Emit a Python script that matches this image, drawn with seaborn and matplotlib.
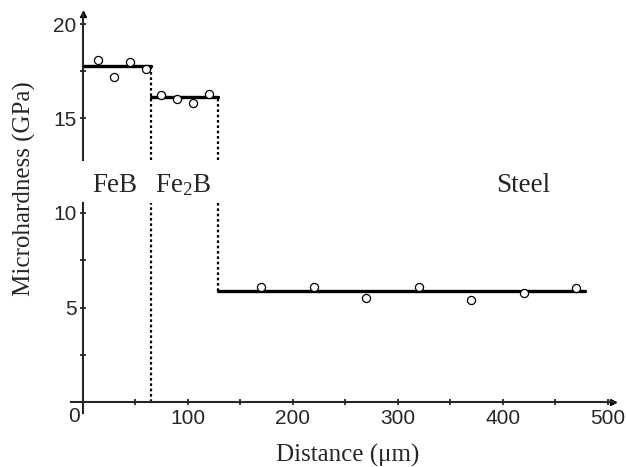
import matplotlib
matplotlib.use("Agg")
import matplotlib.pyplot as plt
import matplotlib.transforms as mtransforms
from matplotlib.ticker import MultipleLocator
import seaborn as sns

# measured microhardness (GPa) vs distance from surface (um)
feb_x = [15, 30, 45, 60]
feb_y = [18.1, 17.2, 18.0, 17.6]
fe2b_x = [75, 90, 105, 120]
fe2b_y = [16.25, 16.0, 15.8, 16.3]
steel_x = [170, 220, 270, 320, 370, 420, 470]
steel_y = [6.07, 6.07, 5.5, 6.07, 5.4, 5.77, 6.02]

# mean levels of each layer and layer boundaries
feb_mean = 17.75
fe2b_mean = 16.13
steel_mean = 5.89
feb_end = 65
fe2b_end = 129
steel_end = 478

sns.set_style("ticks")
plt.rcParams["font.family"] = ["Liberation Sans", "DejaVu Sans"]
plt.rcParams["mathtext.fontset"] = "custom"
plt.rcParams["mathtext.rm"] = "Liberation Serif"
plt.rcParams["mathtext.it"] = "Liberation Serif:italic"
serif = ["Liberation Serif", "DejaVu Serif"]

fig = plt.figure(figsize=(6.26, 4.67), dpi=100)
left, width = 0.1134, 0.979 - 0.1134
ax_lo = fig.add_axes([left, 0.1156, width, 0.565 - 0.1156])
ax_hi = fig.add_axes([left, 0.657, width, 0.970 - 0.657], sharex=ax_lo)

ax_lo.set_xlim(-11, 505)
ax_lo.set_ylim(-0.56, 10.52)
ax_hi.set_ylim(12.75, 20.55)

lw_axis = 1.5
for ax in (ax_lo, ax_hi):
    for s in ("top", "right"):
        ax.spines[s].set_visible(False)
    ax.spines["left"].set_position(("data", 0))
    ax.spines["left"].set_linewidth(lw_axis)
    ax.set_facecolor("none")
    ax.tick_params(direction="inout", length=5, width=1.3, labelsize=15, pad=2,
                   which="both")
    ax.tick_params(which="minor", length=4)

ax_hi.spines["bottom"].set_visible(False)
ax_hi.tick_params(axis="x", which="both", bottom=False, labelbottom=False)
ax_lo.spines["bottom"].set_position(("data", 0))
ax_lo.spines["bottom"].set_linewidth(lw_axis)

ax_lo.set_xticks([0, 100, 200, 300, 400, 500])
ax_lo.xaxis.set_minor_locator(MultipleLocator(50))
ax_lo.set_yticks([5, 10])
ax_lo.yaxis.set_minor_locator(MultipleLocator(2.5))
ax_hi.set_yticks([15, 20])
ax_hi.yaxis.set_minor_locator(MultipleLocator(2.5))

# shift the "0" label left of the y axis
lab0 = ax_lo.get_xticklabels()[0]
lab0.set_transform(lab0.get_transform() +
                   mtransforms.ScaledTranslation(-0.09, 0.02, fig.dpi_scale_trans))

# mean lines
line_kw = dict(color="black", linewidth=2.4, legend=False)
sns.lineplot(x=[0, feb_end], y=[feb_mean, feb_mean], ax=ax_hi, **line_kw)
sns.lineplot(x=[feb_end, fe2b_end], y=[fe2b_mean, fe2b_mean], ax=ax_hi, **line_kw)
sns.lineplot(x=[fe2b_end, steel_end], y=[steel_mean, steel_mean], ax=ax_lo, **line_kw)

# dotted layer boundaries
dot_kw = dict(color="black", linewidth=1.6, linestyle=(0, (1.2, 1.2)))
ax_hi.plot([feb_end, feb_end], [12.75, feb_mean], **dot_kw)
ax_hi.plot([fe2b_end, fe2b_end], [12.75, fe2b_mean], **dot_kw)
ax_lo.plot([feb_end, feb_end], [0, 10.52], **dot_kw)
ax_lo.plot([fe2b_end, fe2b_end], [steel_mean, 10.52], **dot_kw)

# data points
pt_kw = dict(s=34, facecolor="white", edgecolor="black", linewidth=0.9,
             zorder=5, legend=False)
sns.scatterplot(x=feb_x, y=feb_y, ax=ax_hi, **pt_kw)
sns.scatterplot(x=fe2b_x, y=fe2b_y, ax=ax_hi, **pt_kw)
sns.scatterplot(x=steel_x, y=steel_y, ax=ax_lo, **pt_kw)

# axis arrows
ax_hi.plot([0], [1], marker="^", color="black", markersize=5,
           transform=ax_hi.get_xaxis_transform(), clip_on=False)
ax_lo.plot([1], [0], marker=">", color="black", markersize=5,
           transform=ax_lo.get_yaxis_transform(), clip_on=False)

# layer names in the gap
base_y = 1 - 192.5 / 467
fig.text(115 / 626, base_y, "FeB", fontsize=19.5, family=serif,
         ha="center", va="baseline")
fig.text(183 / 626, base_y, "Fe$_{2}$B", fontsize=19.5, family=serif,
         ha="center", va="baseline")
fig.text(523 / 626, base_y, "Steel", fontsize=19.5, family=serif,
         ha="center", va="baseline")

fig.text(24 / 626, 1 - 189 / 467, "Microhardness (GPa)", fontsize=18,
         family=serif, rotation=90, ha="center", va="center")
fig.text(348 / 626, 1 - 461.5 / 467, "Distance (\u03bcm)", fontsize=18,
         family=serif, ha="center", va="baseline")

fig.savefig("out.png", dpi=100)
